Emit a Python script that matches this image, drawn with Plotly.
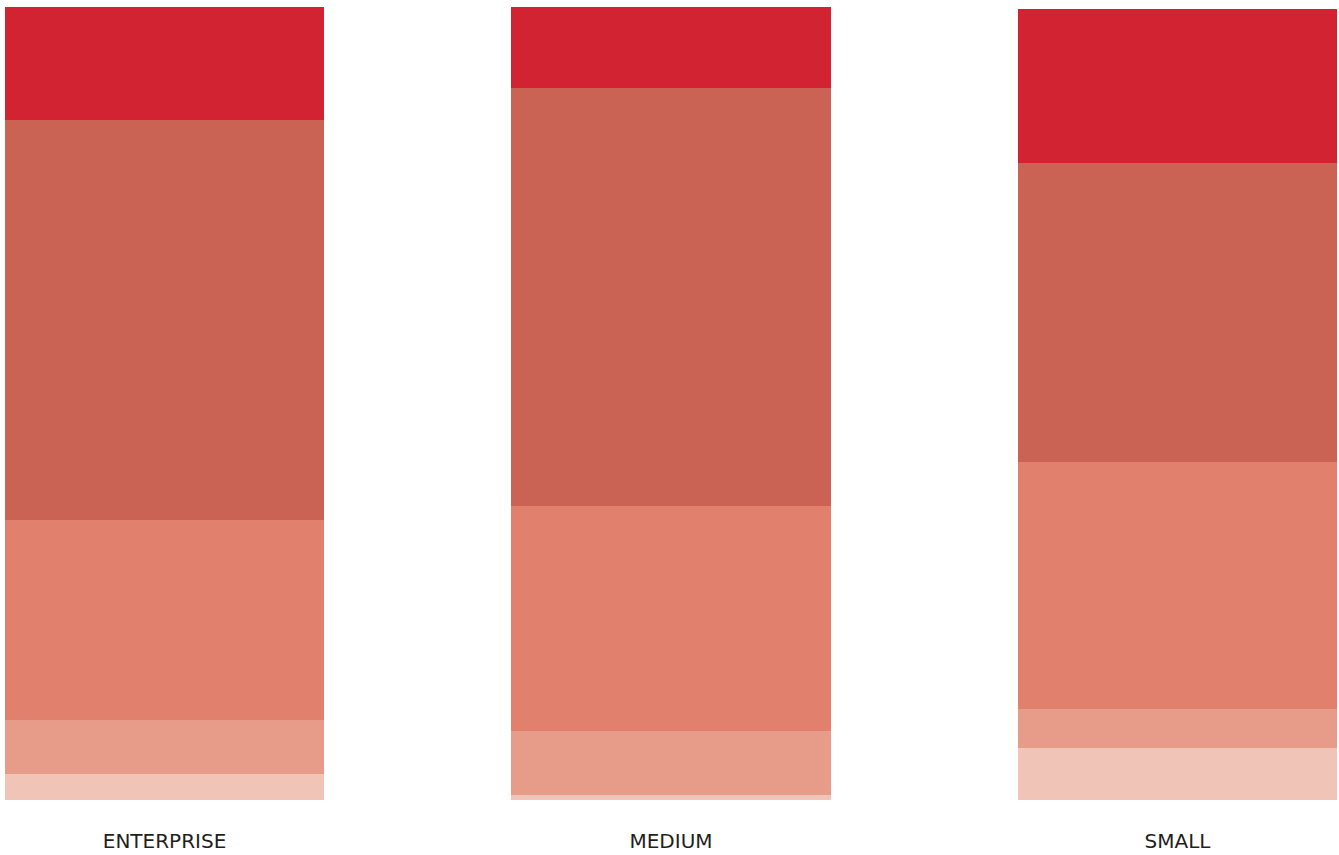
import plotly.graph_objects as go

categories = ["ENTERPRISE", "MEDIUM", "SMALL"]

# stacked shares (%) from bottom to top
seg_lightest = [3.3, 0.6, 6.6]
seg_light = [6.8, 8.1, 4.9]
seg_mid = [25.2, 28.4, 31.1]
seg_dark = [50.4, 52.7, 37.7]
seg_red = [14.3, 10.2, 19.5]

series = [
    ("Segment 5", seg_lightest, "#F1C4B8"),
    ("Segment 4", seg_light, "#E69C88"),
    ("Segment 3", seg_mid, "#E0806D"),
    ("Segment 2", seg_dark, "#CB6354"),
    ("Segment 1", seg_red, "#D22332"),
]

fig = go.Figure()
for name, vals, col in series:
    fig.add_trace(go.Bar(
        x=categories, y=vals, name=name,
        marker=dict(color=col, line=dict(width=0)),
        width=0.63,
        hoverinfo="x+y+name",
    ))

fig.update_layout(
    barmode="stack",
    width=1339, height=855,
    margin=dict(l=5, r=2, t=7, b=55),
    paper_bgcolor="white",
    plot_bgcolor="white",
    showlegend=False,
    xaxis=dict(
        type="category",
        range=[-0.315, 2.315],
        automargin=False,
        showgrid=False, zeroline=False, showline=False,
        ticks="",
        tickfont=dict(family="DejaVu Sans", size=20, color="#231F20"),
        ticklabelstandoff=27,
    ),
    yaxis=dict(
        range=[0, 100],
        visible=False,
        automargin=False,
        showgrid=False, zeroline=False,
    ),
)

fig.write_html("out.html")
